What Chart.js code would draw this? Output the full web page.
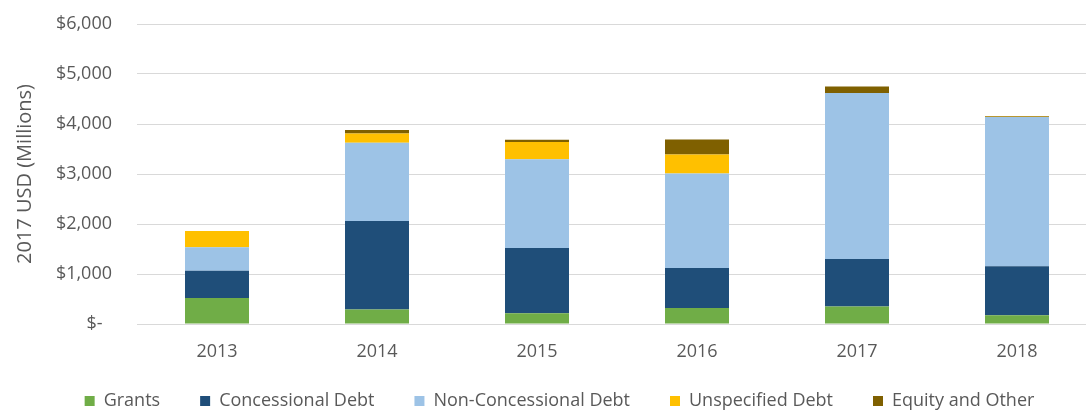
<!DOCTYPE html>
<html>
<head>
<meta charset="utf-8">
<script src="https://cdn.jsdelivr.net/npm/chart.js@4.4.1/dist/chart.umd.min.js"></script>
<style>
  html, body { margin: 0; padding: 0; background: #fff; overflow: hidden; }
  #wrap { position: absolute; left: 0; top: 0; width: 1097px; height: 410px; }
</style>
</head>
<body>
<div id="wrap"><canvas id="myChart"></canvas></div>
<script>
const years = ["2013", "2014", "2015", "2016", "2017", "2018"];
const grants = [520, 290, 215, 320, 350, 175];
const concessional = [545, 1770, 1305, 800, 950, 980];
const nonConcessional = [470, 1565, 1775, 1890, 3320, 2985];
const unspecified = [325, 185, 345, 380, 0, 5];
const equity = [0, 70, 45, 300, 130, 15];

const textColor = "#595959";
const font = "'Open Sans', sans-serif";

function series(label, values, color) {
  return {
    label: label,
    data: values,
    backgroundColor: color,
    borderWidth: 0,
    barPercentage: 0.4,
    categoryPercentage: 1,
  };
}

const ctx = document.getElementById("myChart");

new Chart(ctx, {
  type: "bar",
  data: {
    labels: years,
    datasets: [
      series("Grants", grants, "#70AD47"),
      series("Concessional Debt", concessional, "#1F4E79"),
      series("Non-Concessional Debt", nonConcessional, "#9DC3E6"),
      series("Unspecified Debt", unspecified, "#FFC000"),
      series("Equity and Other", equity, "#7F6000"),
    ],
  },
  options: {
    responsive: true,
    maintainAspectRatio: false,
    animation: false,
    layout: {
      padding: { left: 22, top: 24, right: 0, bottom: 0 },
    },
    scales: {
      x: {
        stacked: true,
        grid: { display: false, drawTicks: false },
        border: { display: false },
        ticks: { color: textColor, font: { family: font, size: 18 }, padding: 17 },
        afterFit: (scale) => {
          scale.height = 28;
          // let the year labels run past the (short) axis box
          scale._computeLabelArea = () => undefined;
        },
      },
      y: {
        stacked: true,
        min: 0,
        max: 6000,
        // invisible tick marks keep the labels away from the plot
        grid: { color: "#d9d9d9", drawTicks: true, tickLength: 22, tickColor: "rgba(0,0,0,0)" },
        border: { display: false },
        ticks: {
          stepSize: 1000,
          padding: 3,
          color: textColor,
          font: { family: font, size: 18 },
          callback: function (value) {
            return value === 0 ? "$-  " : "$" + value.toLocaleString("en-US");
          },
        },
        title: {
          display: true,
          text: "2017 USD (Millions)",
          color: textColor,
          font: { family: font, size: 20 },
          padding: { top: -9, bottom: 4 },
        },
        afterFit: (scale) => { scale.width = 115; },
      },
    },
    plugins: {
      legend: {
        position: "bottom",
        maxHeight: 58,
        labels: {
          color: textColor,
          font: { family: font, size: 18 },
          boxWidth: 10,
          boxHeight: 10,
          padding: 40,
        },
      },
      tooltip: { enabled: false },
    },
  },
});
</script>
</body>
</html>
